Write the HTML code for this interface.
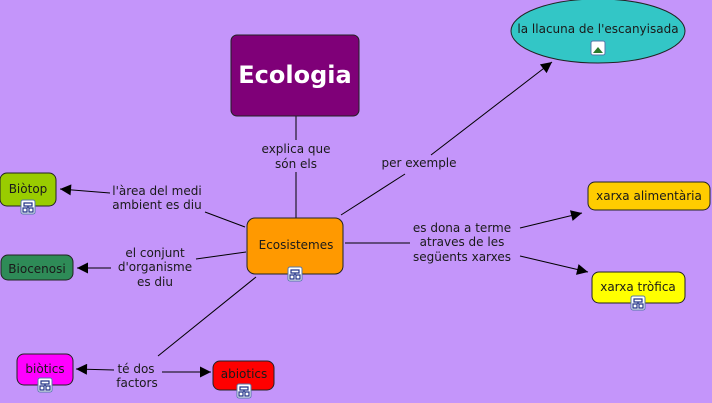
<!DOCTYPE html>
<html><head><meta charset="utf-8"><style>
html,body{margin:0;padding:0;background:#c495fa;}
svg{display:block;}
text{font-family:"DejaVu Sans","Liberation Sans",sans-serif;font-size:12px;fill:#1a1a1a;text-anchor:middle;}
</style></head><body>
<svg width="712" height="403" viewBox="0 0 712 403" xmlns="http://www.w3.org/2000/svg">
<defs>
<marker id="a" viewBox="0 0 10 10" refX="10" refY="5" markerWidth="15" markerHeight="11" markerUnits="userSpaceOnUse" orient="auto">
<path d="M0,0 L10,5 L0,10 z" fill="#000"/></marker>
<g id="ic"><rect x="-7" y="-7" width="14" height="14" rx="2" fill="#fff" stroke="#5577aa"/><path d="M-4,-4h8v3h-8z M-5,1h4v4h-4z M1,1h4v4h-4z M0,-1v2" fill="none" stroke="#223388" stroke-width="1.2"/></g>
</defs>
<g stroke="#000" stroke-width="1" fill="none">
<line x1="296" y1="116" x2="296" y2="140"/><line x1="296" y1="172" x2="296" y2="218"/>
<line x1="341" y1="215" x2="405" y2="174"/><line x1="431" y1="155" x2="552" y2="62" marker-end="url(#a)"/>
<line x1="245" y1="227" x2="205" y2="212"/><line x1="110" y1="193" x2="60" y2="189" marker-end="url(#a)"/>
<line x1="246" y1="252" x2="196" y2="259"/><line x1="111" y1="268" x2="77" y2="268" marker-end="url(#a)"/>
<line x1="256" y1="277" x2="158" y2="356"/><line x1="114" y1="370" x2="76" y2="369" marker-end="url(#a)"/>
<line x1="162" y1="372" x2="211" y2="372" marker-end="url(#a)"/>
<line x1="345" y1="243" x2="410" y2="243"/><line x1="520" y1="228" x2="582" y2="213" marker-end="url(#a)"/>
<line x1="520" y1="256" x2="588" y2="272" marker-end="url(#a)"/>
</g>
<rect x="231" y="35" width="128" height="81" rx="6" fill="#7f0078" stroke="#222"/>
<text x="295" y="83" style="font-size:24px;font-weight:bold;fill:#fff">Ecologia</text>
<ellipse cx="598" cy="31" rx="87" ry="32" fill="#33c6c6" stroke="#222"/>
<text x="598" y="33">la llacuna de l'escanyisada</text>
<rect x="591" y="41" width="14" height="14" rx="2" fill="#fff" stroke="#5577aa"/><path d="M593,53 l5,-6 5,6z" fill="#2a7a2a"/>
<rect x="247" y="218" width="96" height="56" rx="8" fill="#ff9900" stroke="#222"/>
<text x="296" y="249">Ecosistemes</text><use href="#ic" x="295" y="274"/>
<rect x="0" y="173" width="56" height="33" rx="7" fill="#99cc00" stroke="#222"/>
<text x="28" y="193">Biòtop</text><use href="#ic" x="28" y="207"/>
<rect x="1" y="255" width="72" height="25" rx="7" fill="#2e8b57" stroke="#222"/>
<text x="37" y="273">Biocenosi</text>
<rect x="17" y="354" width="56" height="31" rx="7" fill="#ff00ff" stroke="#222"/>
<text x="45" y="373">biòtics</text><use href="#ic" x="45" y="385"/>
<rect x="213" y="361" width="61" height="29" rx="7" fill="#ff0000" stroke="#222"/>
<text x="244" y="378">abiotics</text><use href="#ic" x="244" y="391"/>
<rect x="588" y="182" width="122" height="28" rx="7" fill="#ffcc00" stroke="#222"/>
<text x="649" y="200">xarxa alimentària</text>
<rect x="592" y="272" width="93" height="31" rx="7" fill="#ffff00" stroke="#222"/>
<text x="638" y="291">xarxa tròfica</text><use href="#ic" x="638" y="303"/>
<text x="296" y="153">explica que</text><text x="296" y="168">són els</text>
<text x="419" y="167">per exemple</text>
<text x="157" y="195">l'àrea del medi</text><text x="157" y="209">ambient es diu</text>
<text x="155" y="257">el conjunt</text><text x="155" y="271">d'organisme</text><text x="155" y="286">es diu</text>
<text x="136" y="373">té dos</text><text x="137" y="387">factors</text>
<text x="462" y="232">es dona a terme</text><text x="462" y="246">atraves de les</text><text x="462" y="261">següents xarxes</text>
</svg>
</body></html>
